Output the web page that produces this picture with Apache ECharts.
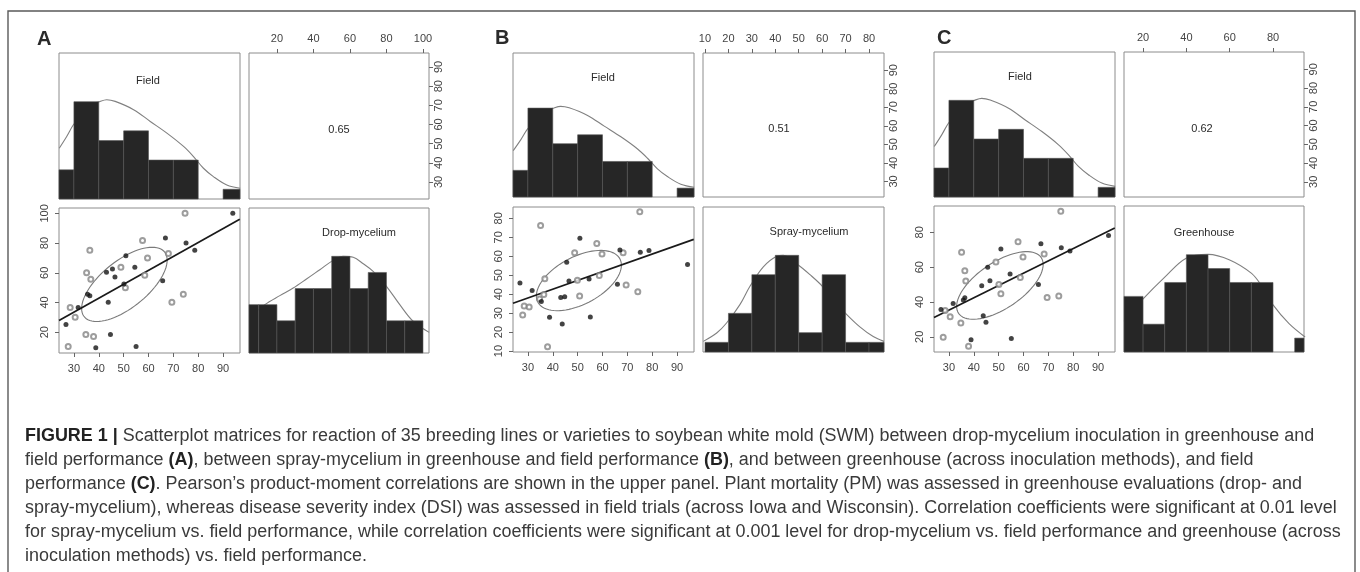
<!DOCTYPE html>
<html>
<head>
<meta charset="utf-8">
<script src="https://cdn.jsdelivr.net/npm/echarts@6.0.0/dist/echarts.min.js"></script>
<style>
html, body { margin: 0; padding: 0; background: #fff; }
#main { width: 1360px; height: 572px; }
</style>
</head>
<body>
<div id="main"></div>
<script>
// ---- histogram bins (counts per bin) ----
var fieldBreaks = [20, 30, 40, 50, 60, 70, 80, 90, 100];
var fieldCounts = [3, 10, 6, 7, 4, 4, 0, 1];
var dropBreaks = [0, 10, 20, 30, 40, 50, 60, 70, 80, 90, 100];
var dropCounts = [3, 3, 2, 4, 4, 6, 4, 5, 2, 2];
var sprayBreaks = [10, 20, 30, 40, 50, 60, 70, 80, 90];
var sprayCounts = [1, 4, 8, 10, 2, 8, 1, 1];
var greenBreaks = [10, 20, 30, 40, 50, 60, 70, 80, 90, 100];
var greenCounts = [4, 2, 5, 7, 6, 5, 5, 0, 1];

var fieldDensX = [24.1, 27.1, 29.8, 33.9, 37.3, 39.9, 43.2, 46.6, 54.0, 60.7, 67.4, 74.1, 78.1, 82.1, 86.1, 91.5, 96.9];
var fieldDensY = [5.22, 6.43, 7.63, 8.9, 9.7, 9.97, 10.2, 10.03, 9.18, 7.97, 6.77, 5.4, 4.36, 3.16, 2.3, 1.44, 1.1];
var dropDensX = [4.9, 13.4, 21.6, 28.9, 36.2, 43.5, 50.8, 56.3, 61.8, 67.3, 72.7, 80.0, 87.3, 94.6, 103.4];
var dropDensY = [2.17, 3.0, 3.56, 4.03, 4.59, 5.17, 5.75, 6.0, 5.94, 5.54, 5.07, 4.14, 3.0, 1.97, 1.28];
var sprayDensX = [9.3, 15.0, 19.2, 24.9, 29.2, 34.9, 40.6, 43.4, 49.8, 54.8, 60.1, 64.8, 70.0, 76.1, 81.8, 86.4];
var sprayDensY = [1.1, 1.96, 3.0, 4.9, 6.8, 8.8, 9.9, 10.0, 9.0, 8.0, 6.8, 5.4, 4.0, 2.6, 1.6, 1.1];
var greenDensX = [11.2, 15.0, 19.8, 29.9, 39.9, 50.0, 60.0, 70.1, 75.0, 80.1, 87.4, 94.8];
var greenDensY = [2.2, 2.9, 3.78, 5.36, 6.74, 7.02, 6.62, 5.65, 4.69, 3.37, 2.04, 1.08];

// ---- scatter points [field, other] ----
var dropFilled = [[26.8,25.2],[31.7,36.6],[35.5,45.5],[36.4,44.6],[38.8,9.5],[43.1,60.3],[43.8,40.2],[44.7,18.4],[45.5,62.6],[46.5,57.2],[50.1,52.5],[50.9,71.5],[54.5,63.7],[55.0,10.4],[65.7,54.7],[66.8,83.4],[75.1,80.1],[78.6,75.1],[93.9,100]];
var dropOpen = [[27.7,10.4],[28.5,36.6],[30.5,30.1],[34.8,18.4],[35.1,60.1],[36.4,75.1],[36.8,55.6],[37.9,17.1],[48.9,63.7],[50.7,50.0],[57.6,81.8],[58.5,58.3],[59.6,70.0],[68.0,72.9],[69.4,40.2],[74.0,45.5],[74.7,100]];
var sprayFilled = [[26.8,45.9],[31.7,41.9],[35.4,36.1],[38.7,27.8],[43.2,38.2],[43.8,24.3],[44.8,38.7],[45.6,56.8],[46.5,47.0],[50.9,69.5],[54.6,48.0],[55.1,28.0],[66.0,45.2],[67.0,63.3],[75.2,62.1],[78.7,63.1],[94.2,55.7]];
var sprayOpen = [[27.9,29.0],[28.5,33.8],[30.5,33.3],[34.7,37.5],[35.1,76.3],[36.4,39.9],[36.8,48.2],[37.9,12.3],[48.8,61.9],[49.9,47.3],[50.8,39.0],[57.7,66.8],[58.7,49.8],[59.8,61.2],[68.3,61.9],[69.5,44.9],[74.2,41.3],[75.0,83.5]];
var greenFilled = [[26.8,35.7],[31.7,39.2],[35.8,41.1],[36.4,42.4],[38.9,18.4],[43.2,49.3],[43.8,32.1],[44.9,28.4],[45.6,59.9],[46.5,52.2],[50.9,70.4],[54.6,56.0],[55.1,19.0],[66.0,50.1],[67.0,73.5],[75.2,71.2],[78.7,69.3],[94.2,78.1]];
var greenOpen = [[27.7,19.8],[28.5,35.1],[30.5,31.5],[34.8,28.0],[35.1,68.5],[36.4,57.9],[36.8,52.0],[37.9,14.6],[48.9,62.9],[50.1,50.1],[50.9,44.7],[57.8,74.6],[58.7,54.1],[59.8,65.8],[68.3,67.5],[69.5,42.6],[74.2,43.4],[75.0,92.1]];

// regression line ends and correlation ellipse [meanX, meanY, sdX, sdY, r]
var dropFit = [[24.0, 27.8], [96.7, 96.0]];
var sprayFit = [[24.0, 35.2], [96.7, 68.9]];
var greenFit = [[24.0, 31.1], [96.7, 82.5]];
var dropEllipse = [50.3, 52.2, 17.2, 25.0, 0.65];
var sprayEllipse = [50.5, 47.2, 17.1, 15.9, 0.51];
var greenEllipse = [50.5, 49.5, 17.4, 19.4, 0.62];
var corrLabels = ['0.65', '0.51', '0.62'];

// ---- tick labels ----
var fieldTicks = [30, 40, 50, 60, 70, 80, 90];
var dropTicks = [20, 40, 60, 80, 100];
var sprayTicks = [10, 20, 30, 40, 50, 60, 70, 80];
var greenTicks = [20, 40, 60, 80];

var FONT = '"Liberation Sans", Arial, sans-serif';

var panels = [
    {letter: 'A', lx: 37, ly: 39, name: 'Drop-mycelium', corr: corrLabels[0],
     c1: 59, w1: 181, c2: 249, w2: 180, r1: 53, h1: 146, r2: 208, h2: 145,
     fieldTop: 15, fieldY: [21.1, 97.3], otherX: [4.7, 103.3], otherY: [6.0, 103.6], otherTop: 9,
     breaks: dropBreaks, counts: dropCounts, densX: dropDensX, densY: dropDensY, ticks: dropTicks,
     filled: dropFilled, open: dropOpen, fit: dropFit, ell: dropEllipse,
     fieldLabel: [148, 81], nameLabel: [359, 233], corrPos: [339, 130]},
    {letter: 'B', lx: 495, ly: 38, name: 'Spray-mycelium', corr: corrLabels[1],
     c1: 513, w1: 181, c2: 703, w2: 181, r1: 53, h1: 144, r2: 207, h2: 145,
     fieldTop: 16.2, fieldY: [21.6, 99.3], otherX: [9.15, 86.4], otherY: [9.5, 86.0], otherTop: 15,
     breaks: sprayBreaks, counts: sprayCounts, densX: sprayDensX, densY: sprayDensY, ticks: sprayTicks,
     filled: sprayFilled, open: sprayOpen, fit: sprayFit, ell: sprayEllipse,
     fieldLabel: [603, 78], nameLabel: [809, 232], corrPos: [779, 129]},
    {letter: 'C', lx: 937, ly: 38, name: 'Greenhouse', corr: corrLabels[2],
     c1: 934, w1: 181, c2: 1124, w2: 180, r1: 52, h1: 145, r2: 206, h2: 146,
     fieldTop: 15, fieldY: [21.9, 99.2], otherX: [11.2, 94.3], otherY: [11.3, 95.1], otherTop: 10.5,
     breaks: greenBreaks, counts: greenCounts, densX: greenDensX, densY: greenDensY, ticks: greenTicks,
     filled: greenFilled, open: greenOpen, fit: greenFit, ell: greenEllipse,
     fieldLabel: [1020, 77], nameLabel: [1204, 233], corrPos: [1202, 129]}
];
var fieldRange = [24.0, 96.8];

var grids = [], xAxes = [], yAxes = [], series = [], graphics = [];

function addGrid(l, t, w, h) {
    grids.push({left: l, top: t, width: w, height: h, show: true, borderColor: '#8c8c8c',
        borderWidth: 1, backgroundColor: 'rgba(0,0,0,0)', outerBoundsMode: 'none'});
    return grids.length - 1;
}

function makeAxis(gi, range, pos, ticks, rotate, margin) {
    var a = {gridIndex: gi, type: 'value', min: range[0], max: range[1],
        splitLine: {show: false}, axisLine: {show: false}};
    if (!ticks) { a.show = false; return a; }
    a.position = pos;
    a.axisTick = {show: true, length: 4, customValues: ticks, lineStyle: {color: '#666'}};
    a.axisLabel = {customValues: ticks, color: '#444', fontSize: 11, fontFamily: FONT,
        margin: margin, rotate: rotate || 0};
    return a;
}

function histItem(params, api) {
    var p0 = api.coord([api.value(0), api.value(2)]);
    var p1 = api.coord([api.value(1), 0]);
    var cs = params.coordSys;
    var rect = echarts.graphic.clipRectByRect(
        {x: p0[0], y: p0[1], width: p1[0] - p0[0], height: p1[1] - p0[1]},
        {x: cs.x, y: cs.y, width: cs.width, height: cs.height});
    return rect && {type: 'rect', shape: rect,
        style: {fill: '#262626', stroke: '#555', lineWidth: 0.6}};
}

function ellipseItem(params, api) {
    var mx = api.value(0), my = api.value(1), sx = api.value(2), sy = api.value(3), r = api.value(4);
    var pts = [];
    for (var k = 0; k <= 80; k++) {
        var t = k / 80 * 2 * Math.PI;
        pts.push(api.coord([mx + sx * Math.cos(t),
            my + sy * (r * Math.cos(t) + Math.sqrt(1 - r * r) * Math.sin(t))]));
    }
    return {type: 'polyline', shape: {points: pts},
        style: {fill: null, stroke: '#7a7a7a', lineWidth: 1.1}};
}

function histSeries(gi, breaks, counts) {
    var data = [];
    counts.forEach(function (c, i) {
        if (c > 0) data.push([breaks[i], breaks[i + 1], c]);
    });
    return {type: 'custom', xAxisIndex: gi, yAxisIndex: gi, renderItem: histItem,
        data: data, z: 3, silent: true};
}

function densSeries(gi, xs, ys) {
    return {type: 'line', xAxisIndex: gi, yAxisIndex: gi, smooth: 0.35, showSymbol: false,
        lineStyle: {color: '#808080', width: 1.1}, z: 2, silent: true,
        data: xs.map(function (x, i) { return [x, ys[i]]; })};
}

function label(text, pos, size, weight, align) {
    graphics.push({type: 'text', x: pos[0], y: pos[1], silent: true,
        style: {text: text, fill: '#2a2a2a', fontSize: size, fontFamily: FONT,
            fontWeight: weight || 'normal', align: align || 'center', verticalAlign: 'middle'}});
}

panels.forEach(function (p) {
    // top-left: Field histogram
    var g0 = addGrid(p.c1, p.r1, p.w1, p.h1);
    xAxes.push(makeAxis(g0, fieldRange));
    yAxes.push(makeAxis(g0, [0, p.fieldTop]));
    series.push(densSeries(g0, fieldDensX, fieldDensY));
    series.push(histSeries(g0, fieldBreaks, fieldCounts));

    // top-right: correlation, with top and right axes
    var g1 = addGrid(p.c2, p.r1, p.w2, p.h1);
    xAxes.push(makeAxis(g1, p.otherX, 'top', p.ticks, 0, 9));
    yAxes.push(makeAxis(g1, p.fieldY, 'right', fieldTicks, 90, 4));

    // bottom-left: scatter
    var g2 = addGrid(p.c1, p.r2, p.w1, p.h2);
    xAxes.push(makeAxis(g2, fieldRange, 'bottom', fieldTicks, 0, 10));
    yAxes.push(makeAxis(g2, p.otherY, 'left', p.ticks, 90, 9));
    series.push({type: 'custom', xAxisIndex: g2, yAxisIndex: g2, renderItem: ellipseItem,
        data: [p.ell], z: 2, silent: true});
    series.push({type: 'line', xAxisIndex: g2, yAxisIndex: g2, data: p.fit, showSymbol: false,
        lineStyle: {color: '#1a1a1a', width: 1.7}, z: 3, silent: true});
    series.push({type: 'scatter', xAxisIndex: g2, yAxisIndex: g2, data: p.open,
        symbol: 'emptyCircle', symbolSize: 5, z: 4, silent: true,
        itemStyle: {color: '#858585', borderColor: '#858585', borderWidth: 0.9}});
    series.push({type: 'scatter', xAxisIndex: g2, yAxisIndex: g2, data: p.filled,
        symbol: 'circle', symbolSize: 5, z: 4, silent: true,
        itemStyle: {color: '#141414'}});

    // bottom-right: other histogram
    var g3 = addGrid(p.c2, p.r2, p.w2, p.h2);
    xAxes.push(makeAxis(g3, p.otherX));
    yAxes.push(makeAxis(g3, [0, p.otherTop]));
    series.push(densSeries(g3, p.densX, p.densY));
    series.push(histSeries(g3, p.breaks, p.counts));

    label(p.letter, [p.lx, p.ly], 20, 'bold', 'left');
    label('Field', p.fieldLabel, 11);
    label(p.name, p.nameLabel, 11);
    label(p.corr, p.corrPos, 11);
});

// outer frame
graphics.push({type: 'rect', silent: true, shape: {x: 8, y: 11, width: 1347, height: 600},
    style: {fill: null, stroke: '#5a5a5a', lineWidth: 1.4}});

// caption
var captionLines = [
    '{b|FIGURE 1 |} Scatterplot matrices for reaction of 35 breeding lines or varieties to soybean white mold (SWM) between drop-mycelium inoculation in greenhouse and',
    'field performance {b|(A)}, between spray-mycelium in greenhouse and field performance {b|(B)}, and between greenhouse (across inoculation methods), and field',
    'performance {b|(C)}. Pearson\u2019s product-moment correlations are shown in the upper panel. Plant mortality (PM) was assessed in greenhouse evaluations (drop- and',
    'spray-mycelium), whereas disease severity index (DSI) was assessed in field trials (across Iowa and Wisconsin). Correlation coefficients were significant at 0.01 level',
    'for spray-mycelium vs. field performance, while correlation coefficients were significant at 0.001 level for drop-mycelium vs. field performance and greenhouse (across',
    'inoculation methods) vs. field performance.'
];
var capFont = 16;
var ctx = document.createElement('canvas').getContext('2d');
ctx.font = capFont + 'px ' + FONT;
var w5 = ctx.measureText(captionLines[4]).width;
capFont = capFont * 1317 / w5;
captionLines.forEach(function (line, i) {
    graphics.push({type: 'text', x: 25, y: 436 + i * 24, silent: true,
        style: {text: line, fill: '#3a3a3a', fontSize: capFont, fontFamily: FONT,
            verticalAlign: 'middle', align: 'left',
            rich: {b: {fontWeight: 'bold', fontSize: capFont, fontFamily: FONT, fill: '#222'}}}});
});

var chart = echarts.init(document.getElementById('main'));
chart.setOption({
    animation: false,
    grid: grids,
    xAxis: xAxes,
    yAxis: yAxes,
    series: series,
    graphic: {elements: graphics}
});
</script>
</body>
</html>
